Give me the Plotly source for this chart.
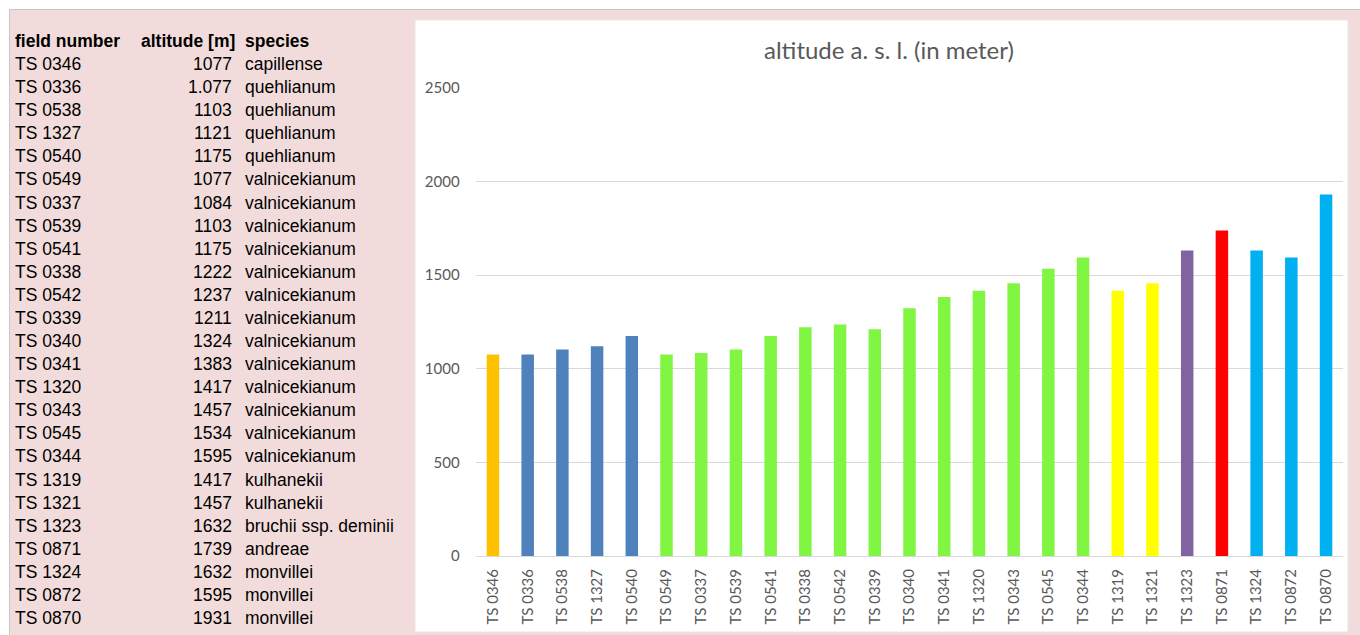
import plotly.graph_objects as go

W, H = 1360, 635

# ---------------- data ----------------
field_numbers = ["TS 0346", "TS 0336", "TS 0538", "TS 1327", "TS 0540", "TS 0549", "TS 0337",
                 "TS 0539", "TS 0541", "TS 0338", "TS 0542", "TS 0339", "TS 0340", "TS 0341",
                 "TS 1320", "TS 0343", "TS 0545", "TS 0344", "TS 1319", "TS 1321", "TS 1323",
                 "TS 0871", "TS 1324", "TS 0872", "TS 0870"]
altitudes = [1077, 1077, 1103, 1121, 1175, 1077, 1084, 1103, 1175, 1222, 1237, 1211, 1324, 1383,
             1417, 1457, 1534, 1595, 1417, 1457, 1632, 1739, 1632, 1595, 1931]
altitude_labels = ["1077", "1.077", "1103", "1121", "1175", "1077", "1084", "1103", "1175", "1222",
                   "1237", "1211", "1324", "1383", "1417", "1457", "1534", "1595", "1417", "1457",
                   "1632", "1739", "1632", "1595", "1931"]
species = ["capillense", "quehlianum", "quehlianum", "quehlianum", "quehlianum",
           "valnicekianum", "valnicekianum", "valnicekianum", "valnicekianum", "valnicekianum",
           "valnicekianum", "valnicekianum", "valnicekianum", "valnicekianum", "valnicekianum",
           "valnicekianum", "valnicekianum", "valnicekianum", "kulhanekii", "kulhanekii",
           "bruchii ssp. deminii", "andreae", "monvillei", "monvillei", "monvillei"]
table_headers = ["field number", "altitude [m]", "species"]
chart_title = "altitude a. s. l. (in meter)"
y_ticks = [0, 500, 1000, 1500, 2000, 2500]

# ---------------- styles ----------------
species_colors = {
    "capillense": "#FFC000",
    "quehlianum": "#4F81BD",
    "valnicekianum": "#80F542",
    "kulhanekii": "#FFFF00",
    "bruchii ssp. deminii": "#8064A2",
    "andreae": "#FF0000",
    "monvillei": "#00B0F0",
}
bar_colors = [species_colors[s] for s in species]

PINK = "#F2DCDB"
GRAY = "#595959"
GRID = "#D9D9D9"

def px(x):
    return x / W

def py(y):
    return 1 - y / H

fig = go.Figure()
fig.add_trace(go.Bar(
    x=field_numbers, y=altitudes, marker=dict(color=bar_colors, line=dict(width=0)),
    showlegend=False, hoverinfo="x+y",
))

shapes = [
    # pink sheet area
    dict(type="rect", xref="paper", yref="paper", x0=px(9.5), x1=px(1365), y0=py(640), y1=py(9.5),
         fillcolor=PINK, line=dict(color="#C8C8C8", width=1), layer="below"),
    # white chart panel
    dict(type="rect", xref="paper", yref="paper", x0=px(415), x1=px(1348), y0=py(632), y1=py(20),
         fillcolor="#FFFFFF", line=dict(color="#E6E6E6", width=1), layer="below"),
]

annotations = []
TFONT = "Liberation Sans, Arial, sans-serif"
TSIZE = 17.5
hdr_y = 41
annotations.append(dict(x=px(13), y=py(hdr_y), xref="paper", yref="paper", xanchor="left",
                        yanchor="middle", showarrow=False, text="<b>%s</b>" % table_headers[0],
                        font=dict(family=TFONT, size=TSIZE, color="#000000")))
annotations.append(dict(x=px(237), y=py(hdr_y), xref="paper", yref="paper", xanchor="right",
                        yanchor="middle", showarrow=False, text="<b>%s</b>" % table_headers[1],
                        font=dict(family=TFONT, size=TSIZE, color="#000000")))
annotations.append(dict(x=px(243), y=py(hdr_y), xref="paper", yref="paper", xanchor="left",
                        yanchor="middle", showarrow=False, text="<b>%s</b>" % table_headers[2],
                        font=dict(family=TFONT, size=TSIZE, color="#000000")))
row0, step = 64, (618 - 64) / 24
for i, (fn, al, sp) in enumerate(zip(field_numbers, altitude_labels, species)):
    yy = py(row0 + i * step)
    annotations.append(dict(x=px(13), y=yy, xref="paper", yref="paper", xanchor="left",
                            yanchor="middle", showarrow=False, text=fn,
                            font=dict(family=TFONT, size=TSIZE, color="#000000")))
    annotations.append(dict(x=px(234), y=yy, xref="paper", yref="paper", xanchor="right",
                            yanchor="middle", showarrow=False, text=al,
                            font=dict(family=TFONT, size=TSIZE, color="#000000")))
    annotations.append(dict(x=px(243), y=yy, xref="paper", yref="paper", xanchor="left",
                            yanchor="middle", showarrow=False, text=sp,
                            font=dict(family=TFONT, size=TSIZE, color="#000000")))

annotations.append(dict(x=px(889), y=py(50), xref="paper", yref="paper", xanchor="center",
                        yanchor="middle", showarrow=False, text=chart_title,
                        font=dict(family="Lato, Carlito, sans-serif", size=24, color=GRAY)))

CFONT = dict(family="Lato, Carlito, sans-serif", size=15, color=GRAY)

fig.update_layout(
    width=W, height=H,
    margin=dict(l=0, r=0, t=0, b=0, pad=0, autoexpand=False),
    paper_bgcolor="#FFFFFF", plot_bgcolor="rgba(0,0,0,0)",
    shapes=shapes, annotations=annotations,
    bargap=0.64,
    xaxis=dict(domain=[px(475.6), px(1343.4)], tickangle=-90, tickfont=CFONT, automargin=False,
               showgrid=False, showline=False, ticks="outside", ticklen=6,
               tickcolor="rgba(0,0,0,0)", fixedrange=True),
    yaxis=dict(domain=[py(556), py(88)], range=[0, 2500], tickvals=y_ticks, automargin=False,
               tickfont=CFONT, showgrid=True, gridcolor=GRID, gridwidth=1,
               zeroline=True, zerolinecolor=GRID, zerolinewidth=1, showline=False,
               ticks="outside", ticklen=12, tickcolor="rgba(0,0,0,0)", fixedrange=True),
)

fig.write_html("out.html")
